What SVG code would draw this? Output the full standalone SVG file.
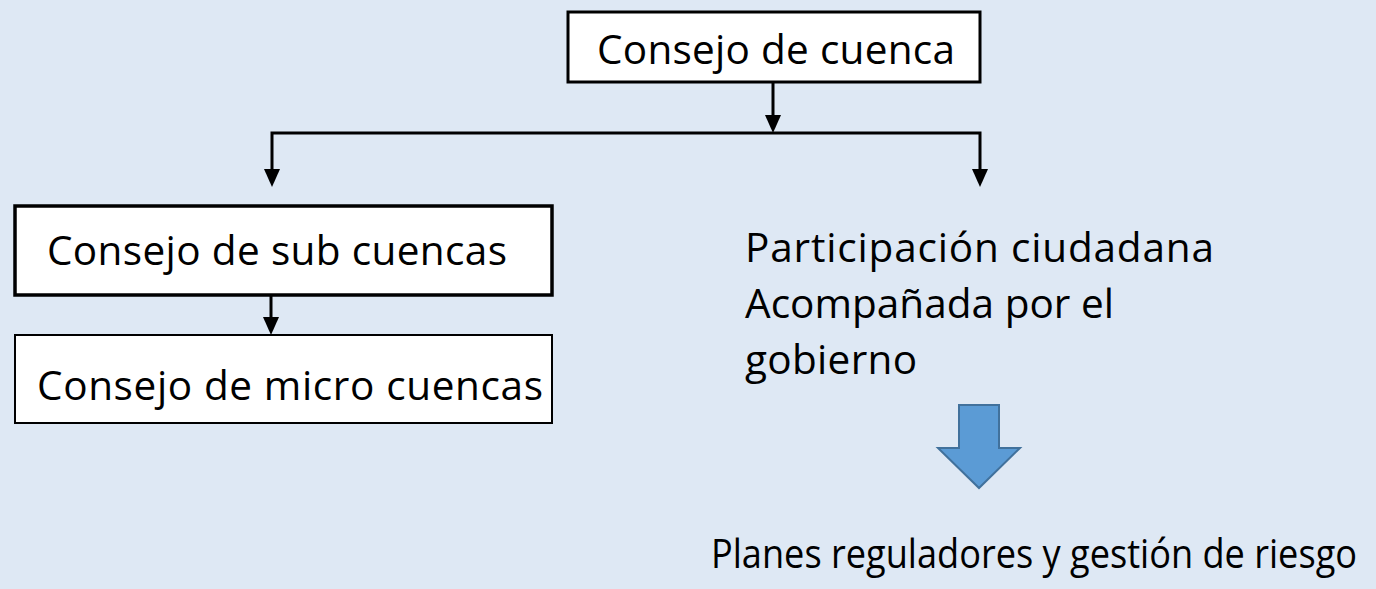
<svg xmlns="http://www.w3.org/2000/svg" width="1376" height="589" viewBox="0 0 1376 589">
<defs>
<style>
.t{font-family:"Open Sans","Noto Sans","Liberation Sans",sans-serif;font-size:40.5px;fill:#000}
.box{fill:#fff;stroke:#000}
.con{fill:none;stroke:#000;stroke-width:3}
</style>
<marker id="ah" markerUnits="userSpaceOnUse" markerWidth="18" markerHeight="16" refX="2" refY="8" orient="auto" viewBox="0 0 18 16">
<path d="M0,0 L18,8 L0,16 z" fill="#000"/>
</marker>
</defs>
<rect width="1376" height="589" fill="#DEE8F4"/>
<g id="connectors">
<path class="con" d="M773,82 V117" marker-end="url(#ah)"/>
<path class="con" d="M773,133 H272 V171" marker-end="url(#ah)"/>
<path class="con" d="M773,133 H980 V171" marker-end="url(#ah)"/>
<path class="con" d="M271,295 V319" marker-end="url(#ah)"/>
</g>
<g id="consejo-cuenca">
<rect class="box" x="568" y="12" width="412" height="70" stroke-width="3"/>
<text class="t" x="597" y="64" textLength="358">Consejo de cuenca</text>
</g>
<g id="consejo-sub">
<rect class="box" x="15" y="206" width="537" height="89" stroke-width="3.5"/>
<text class="t" x="47" y="265" textLength="460">Consejo de sub cuencas</text>
</g>
<g id="consejo-micro">
<rect class="box" x="15" y="335" width="537" height="88" stroke-width="2"/>
<text class="t" x="37" y="400" textLength="506">Consejo de micro cuencas</text>
</g>
<g id="participacion">
<text class="t" x="745" y="262" textLength="469">Participación ciudadana</text>
<text class="t" x="745" y="318" textLength="369">Acompañada por el</text>
<text class="t" x="745" y="374" textLength="172">gobierno</text>
</g>
<g id="flecha-azul">
<polygon points="959,405 999,405 999,448 1020,448 979,488 938,448 959,448" fill="#5B9BD5" stroke="#41719C" stroke-width="2"/>
</g>
<g id="planes">
<text class="t" x="711" y="568" font-size="39" textLength="646" lengthAdjust="spacingAndGlyphs">Planes reguladores y gestión de riesgo</text>
</g>
</svg>
